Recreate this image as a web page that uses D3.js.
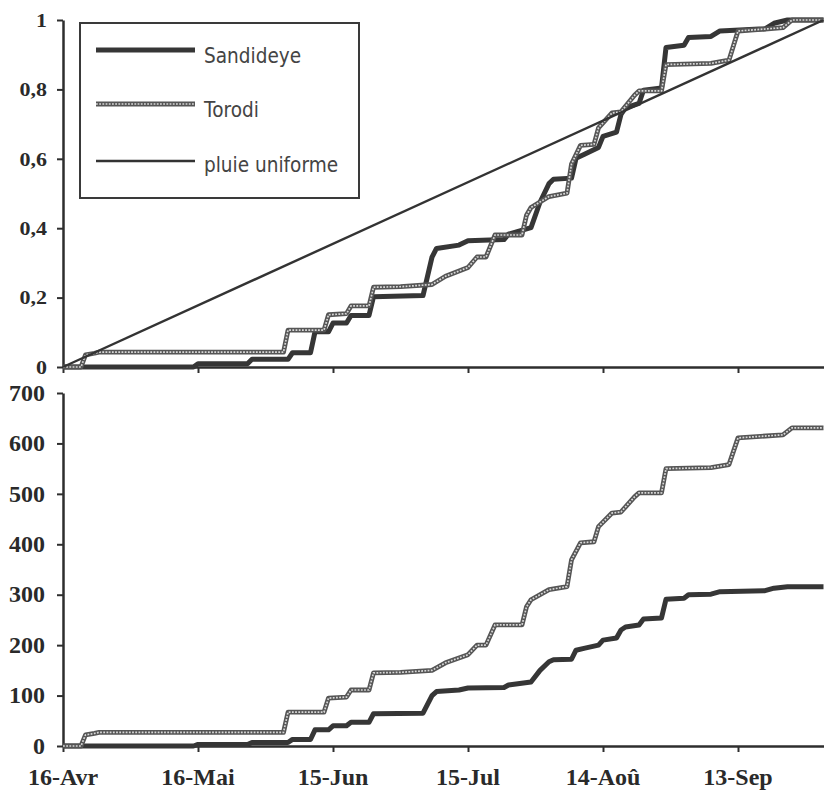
<!DOCTYPE html>
<html><head><meta charset="utf-8">
<script src="https://cdn.jsdelivr.net/npm/d3@7/dist/d3.min.js"></script>
<style>body{margin:0;background:#fff}</style>
</head><body>
<svg id="c" width="824" height="794"></svg>
<script>
// ---- data ----
const tickDays = [0, 30, 60, 90, 120, 150];
const tickLabels = ["16-Avr", "16-Mai", "15-Jun", "15-Jul", "14-Aoû", "13-Sep"];
const dayDomain = [0, 169];
const fracTicks = [0, 0.2, 0.4, 0.6, 0.8, 1];
const fracLabels = ["0", "0,2", "0,4", "0,6", "0,8", "1"];
const mmTicks = [0, 100, 200, 300, 400, 500, 600, 700];
const seriesNames = ["Sandideye", "Torodi", "pluie uniforme"];
// cumulative rainfall (mm), [day since 16-Avr, value]
const sandideye = [[0,0],[29,0],[30,3],[41,3],[42,7],[50,7],[51,13],[55,13],[56,32],[59,32],[60,40],[63,40],[64,47],[68,47],[69,64],[80,65],[82,100],[83,108],[88,111],[90,115],[98,116],[99,121],[104,127],[106,150],[108,167],[109,171],[113,172],[114,190],[116,194],[119,200],[120,210],[123,214],[124,230],[125,236],[128,240],[129,252],[133,254],[134,291],[138,293],[139,300],[144,301],[146,306],[156,308],[158,313],[161,316],[169,316]];
const torodi = [[0,0],[4,0],[5,22],[7,25],[8,27],[49,27],[50,67],[58,67],[59,95],[63,97],[64,111],[68,111],[69,145],[75,146],[82,150],[85,165],[90,181],[92,200],[94,200],[96,240],[102,240],[103,276],[104,290],[108,310],[112,316],[113,369],[115,403],[118,405],[119,435],[122,462],[124,464],[127,494],[128,502],[133,502],[134,550],[144,552],[148,558],[150,611],[160,617],[162,631],[169,631]];
const uniforme = [[0,0],[169,1]];

// ---- drawing ----
const svg = d3.select("#c");
const x = d3.scaleLinear().domain(dayDomain).range([63, 823.5]);
const yTop = d3.scaleLinear().domain([0, 1]).range([367, 20]);
const yBot = d3.scaleLinear().domain([0, 700]).range([746, 393]);

const serif = "'Liberation Serif','Times New Roman',serif";
const sans = "'DejaVu Sans',Verdana,sans-serif";
const axisCol = "#2e2e2e";

function styleAxis(g) {
  g.select(".domain").attr("stroke", axisCol).attr("stroke-width", 2.5);
  g.selectAll(".tick line").attr("stroke", axisCol).attr("stroke-width", 2);
}
function labelText(sel, size) {
  return sel.attr("fill", "#2a2a2a").attr("font-family", serif)
    .attr("font-weight", 700).attr("font-size", size);
}

// top panel axes
const gTopX = svg.append("g").attr("transform", `translate(0,${yTop(0)})`)
  .call(d3.axisBottom(x).tickValues(tickDays).tickSize(6).tickSizeOuter(0).tickFormat(""));
styleAxis(gTopX);
const gTopY = svg.append("g").attr("transform", `translate(${x(0)},0)`)
  .call(d3.axisLeft(yTop).tickValues(fracTicks).tickSize(6).tickSizeOuter(0).tickFormat(""));
styleAxis(gTopY);
fracTicks.forEach((v, i) => {
  labelText(svg.append("text"), 22)
    .attr("text-anchor", "end")
    .attr("transform", `translate(${x(0) - 16},${yTop(v)}) scale(1,0.9)`)
    .attr("dy", "0.34em").text(fracLabels[i]);
});

// bottom panel axes
const gBotX = svg.append("g").attr("transform", `translate(0,${yBot(0)})`)
  .call(d3.axisBottom(x).tickValues(tickDays).tickSize(6).tickSizeOuter(0).tickFormat(""));
styleAxis(gBotX);
tickDays.forEach((v, i) => {
  labelText(svg.append("text"), 24)
    .attr("text-anchor", "middle").attr("x", x(v)).attr("y", yBot(0) + 39)
    .text(tickLabels[i]);
});
const gBotY = svg.append("g").attr("transform", `translate(${x(0)},0)`)
  .call(d3.axisLeft(yBot).tickValues(mmTicks).tickSize(6).tickSizeOuter(0).tickFormat(""));
styleAxis(gBotY);
mmTicks.forEach(v => {
  labelText(svg.append("text"), 24)
    .attr("text-anchor", "end")
    .attr("transform", `translate(${x(0) - 18},${yBot(v)}) scale(1,0.95)`)
    .attr("dy", "0.34em").text(String(v));
});

// lines
function drawSand(data, y) {
  svg.append("path").datum(data).attr("fill", "none")
    .attr("stroke", "#363636").attr("stroke-width", 5).attr("stroke-linejoin", "round")
    .attr("d", d3.line().x(d => x(d[0])).y(d => y(d[1])));
}
function drawTorodi(data, y) {
  const line = d3.line().x(d => x(d[0])).y(d => y(d[1]));
  svg.append("path").datum(data).attr("fill", "none")
    .attr("stroke", "#555").attr("stroke-width", 4.8).attr("stroke-linejoin", "round")
    .attr("d", line);
  svg.append("path").datum(data).attr("fill", "none")
    .attr("stroke", "#d8d8d8").attr("stroke-width", 1.7).attr("stroke-dasharray", "1.8 1.4")
    .attr("d", line);
}
const sTot = sandideye[sandideye.length - 1][1];
const tTot = torodi[torodi.length - 1][1];
drawSand(sandideye.map(d => [d[0], d[1] / sTot]), yTop);
drawTorodi(torodi.map(d => [d[0], d[1] / tTot]), yTop);
svg.append("path").datum(uniforme).attr("fill", "none")
  .attr("stroke", "#333").attr("stroke-width", 2.4)
  .attr("d", d3.line().x(d => x(d[0])).y(d => yTop(d[1])));

drawSand(sandideye, yBot);
drawTorodi(torodi, yBot);

// legend
const lg = svg.append("g");
lg.append("rect").attr("x", 80).attr("y", 23).attr("width", 279).attr("height", 175)
  .attr("fill", "#fff").attr("stroke", "#3a3a3a").attr("stroke-width", 2);
const legY = [50, 104, 161];
const legBase = [63, 117, 172];
function legLine(i) { return d3.line()([[96, legY[i]], [195, legY[i]]]); }
lg.append("path").attr("d", legLine(0)).attr("stroke", "#363636").attr("stroke-width", 5);
lg.append("path").attr("d", legLine(1)).attr("stroke", "#555").attr("stroke-width", 4.8);
lg.append("path").attr("d", legLine(1)).attr("stroke", "#d8d8d8").attr("stroke-width", 1.7).attr("stroke-dasharray", "1.8 1.4");
lg.append("path").attr("d", legLine(2)).attr("stroke", "#333").attr("stroke-width", 2.4);
seriesNames.forEach((n, i) => {
  lg.append("text").attr("x", 204).attr("y", legBase[i]).text(n)
    .attr("transform", `translate(0,${legBase[i]}) scale(1,1.1) translate(0,${-legBase[i]})`)
    .attr("font-family", sans).attr("font-size", 18.5).attr("fill", "#444");
});
</script>
</body></html>
